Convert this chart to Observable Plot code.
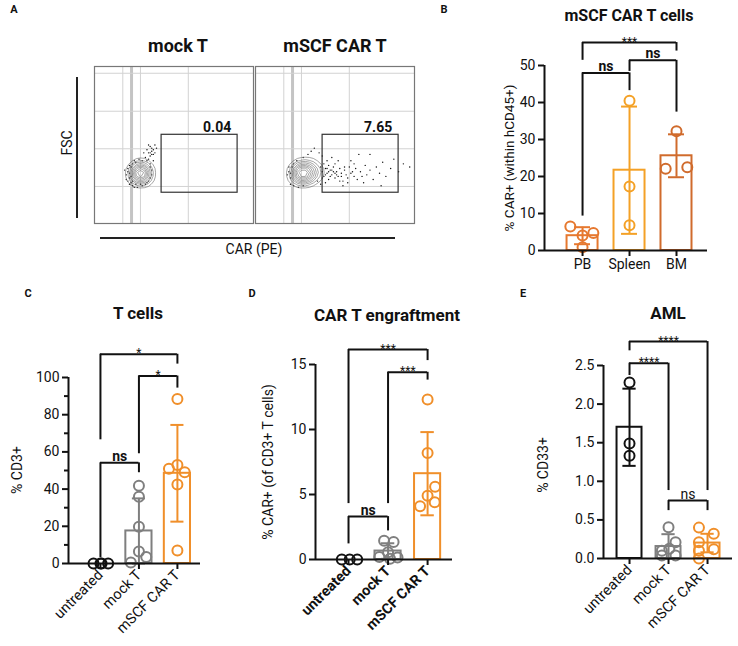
<!DOCTYPE html>
<html><head><meta charset="utf-8">
<script src="https://cdn.jsdelivr.net/npm/d3@7"></script>
<script src="https://cdn.jsdelivr.net/npm/@observablehq/plot@0.6"></script>
<style>
body{margin:0;background:#fff;font-family:Roboto,"Noto Sans",sans-serif;color:#111}
#fig{position:relative;width:738px;height:646px;overflow:hidden;background:#fff}
.t{position:absolute;white-space:nowrap;transform:translate(-50%,-50%);line-height:1}
</style></head>
<body><div id="fig"></div>
<script>
// ---------- Panel A (flow cytometry) ----------
const flowTitles = ["mock T", "mSCF CAR T"];
const flowPercents = ["0.04", "7.65"];
const flowGridX = [17.8, 28.9, 59.0];
const flowGridThickX = [23.3];
const flowGridY = [23.6, 47.6, 71.5, 95.7];
const flowGate = {x1: 42.2, x2: 90.0, y1: 19.6, y2: 56.5};
const mockCore = [[29,32],[28,31],[30,33],[29,33],[28,32],[30,31],[27,32],[31,32],[29,30],[29,34],[27,30],[31,34],[26,33],[32,31],[28,35],[30,29],[26,30],[32,34],[27,35],[31,29],[25,32],[33,33],[29,36],[29,28],[24,31],[34,32],[27,28],[31,37],[26,36],[32,28],[29,32],[28,33],[30,32],[29,31],[30,34],[28,30]];
const mockDots = [[22,29],[21,33],[23,36],[22,25],[24,24],[27,23],[30,24],[33,26],[35,29],[36,34],[35,38],[34,41],[32,42],[36,44],[37,47],[35,49],[33,47],[38,45],[34,45],[30,40],[26,39],[24,38],[20,31],[21,27],[37,40],[38,50],[31,45],[23,26],[36,31],[19,34],[35,43],[36,46],[34,50],[20,28],[25,23],[28,41],[39,48],[22,32],[23,30],[21,35],[24,27],[26,25],[29,25],[32,25],[34,27],[35,36],[33,40],[36,48],[37,44],[35,45],[22,37],[25,40]];
const carCore = [[29,32],[28,31],[30,33],[29,33],[28,32],[30,31],[27,32],[31,32],[29,30],[29,34],[27,30],[31,34],[26,33],[32,31],[28,35],[30,29],[26,30],[32,34],[27,35],[31,29],[25,32],[33,33],[29,36],[29,28],[24,31],[34,32],[27,28],[31,37],[26,36],[32,28],[34,33],[35,31],[36,34],[37,32],[38,33],[35,36],[33,30],[39,31],[40,34],[36,29],[33,38],[37,37],[29,32],[30,32],[28,33]];
const carDots = [[22,29],[21,33],[23,36],[22,25],[24,24],[27,23],[30,24],[24,38],[26,40],[30,42],[33,44],[35,46],[37,48],[20,31],[40,45],[42,43],[39,27],[41,25],[42,33],[43,30],[44,35],[45,32],[46,28],[47,34],[48,31],[49,36],[50,29],[51,33],[52,30],[53,35],[54,32],[55,27],[56,34],[57,31],[58,29],[59,36],[60,32],[62,30],[63,35],[64,28],[66,33],[67,30],[69,37],[70,31],[72,34],[74,28],[76,36],[78,32],[80,39],[82,30],[85,35],[87,41],[90,33],[93,38],[97,36],[45,40],[48,42],[52,40],[55,24],[60,40],[65,44],[72,44],[79,24],[44,26],[50,38],[58,26],[62,38],[68,26],[46,37],[53,27],[43,38],[47,30],[49,33],[51,31],[44,31],[46,33],[48,34],[41,36],[42,29],[45,35],[50,32],[54,30],[56,36],[61,33],[22,32],[21,36]];

// ---------- Panel B ----------
const groupsB = ["PB", "Spleen", "BM"];
const meansB = [4.0, 21.7, 25.6];
const sdsB = [2.3, 17.2, 5.8];
// [group index, value, horizontal jitter]
const pointsB = [[0,6.5,-0.26],[0,4.05,0],[0,4.7,0.23],[0,0.9,0],[1,40.5,0],[1,17.3,0],[1,6.8,0],[2,32.2,0],[2,22.1,-0.23],[2,22.5,0.23]];
const bracketsB = [{a:1,b:3,y:56.2,ya:51.4,yb:53.9,t:"***"},{a:2,b:3,y:51.4,ya:48.4,yb:37.4,t:"ns"},{a:1,b:2,y:48.0,ya:9.3,yb:43.2,t:"ns"}];
const ticksB = [0,10,20,30,40,50];

// ---------- Panels C, D, E ----------
const groupsCDE = ["untreated", "mock T", "mSCF CAR T"];
const meansC = [0, 17.5, 48.5];
const sdsC = [0, 17.5, 26.0];
const pointsC = [[0,0,-0.18],[0,0,0.0],[0,0,0.03],[0,0,0.2],[1,41.8,0],[1,35.9,0],[1,19.8,0],[1,6.5,0],[1,3.5,0.19],[1,0.5,-0.21],[2,88.5,0],[2,53,0],[2,51,-0.22],[2,49,0.19],[2,42.5,0],[2,7,0]];
const bracketsC = [{a:1,b:3,y:112.5,ya:66.5,yb:107.2,t:"*"},{a:2,b:3,y:100.8,ya:59,yb:94.3,t:"*"},{a:1,b:2,y:54.1,ya:3.2,yb:48.8,t:"ns"}];
const ticksC = [0,20,40,60,80,100];
const minorC = [10,30,50,70,90];

const meansD = [0, 0.65, 6.6];
const sdsD = [0, 0.6, 3.2];
const pointsD = [[0,0,-0.17],[0,0,0.03],[0,0,0.22],[1,1.45,-0.1],[1,1.35,0.14],[1,0.55,0],[1,0.2,-0.22],[1,0.15,0.24],[1,0.05,0.05],[2,12.3,0],[2,8.2,0],[2,5.6,0.19],[2,4.9,0],[2,4.4,0.18],[2,4.1,-0.19]];
const bracketsD = [{a:1,b:3,y:16.15,ya:4.3,yb:15.3,t:"***"},{a:2,b:3,y:14.4,ya:4.3,yb:13.8,t:"***"},{a:1,b:2,y:3.3,ya:1.2,yb:2.2,t:"ns"}];
const ticksD = [0,5,10,15];

const meansE = [1.70, 0.155, 0.20];
const sdsE = [0.5, 0.16, 0.12];
const pointsE = [[0,2.28,0],[0,1.49,0],[0,1.33,0],[1,0.405,0],[1,0.21,0.18],[1,0.1,-0.17],[1,0.125,0.02],[1,0.04,0.18],[1,0.04,-0.17],[2,0.40,-0.22],[2,0.32,0.16],[2,0.21,-0.22],[2,0.12,0.16],[2,0.10,-0.22],[2,0.0,-0.22]];
const bracketsE = [{a:1,b:3,y:2.81,ya:2.69,yb:0.88,t:"****"},{a:1,b:2,y:2.53,ya:2.37,yb:0.88,t:"****"},{a:2,b:3,y:0.75,ya:0.62,yb:0.62,t:"ns"}];
const ticksE = [0,0.5,1.0,1.5,2.0,2.5];

const colorsB = ["#e6782f", "#f4a126", "#d06b2c"];
const colorsCDE = ["#111111", "#7f7f7f", "#f08f2a"];

const fig = document.getElementById("fig");
function put(el, left, top) {
  el.style.position = "absolute"; el.style.left = left + "px"; el.style.top = top + "px";
  fig.appendChild(el);
}
function label(text, x, y, size, bold, rot) {
  const d = document.createElement("div");
  d.className = "t"; d.textContent = text;
  d.style.left = x + "px"; d.style.top = y + "px";
  d.style.fontSize = size + "px"; d.style.fontWeight = bold ? "700" : "400";
  if (rot) d.style.transform = `translate(-50%,-50%) rotate(${rot}deg)`;
  fig.appendChild(d);
}
function line(x, y, w, h) {
  const d = document.createElement("div");
  d.style.position = "absolute"; d.style.left = x + "px"; d.style.top = y + "px";
  d.style.width = w + "px"; d.style.height = h + "px"; d.style.background = "#222";
  fig.appendChild(d);
}
const baseStyle = {fontFamily: "Roboto, sans-serif", color: "#111", background: "transparent", overflow: "visible", maxWidth: "none"};

function flowPlot(core, dots, pct) {
  return Plot.plot({
    width: 159, height: 157, margin: 0,
    x: {domain: [0, 100], axis: null}, y: {domain: [0, 100], axis: null},
    style: baseStyle,
    marks: [
      Plot.ruleX(flowGridX, {stroke: "#d2d2d2", strokeWidth: 1}),
      Plot.ruleX(flowGridThickX, {stroke: "#c4c4c4", strokeWidth: 3}),
      Plot.ruleY(flowGridY, {stroke: "#d2d2d2", strokeWidth: 1}),
      Plot.dot(dots, {x: d => d[0], y: d => d[1], r: 0.7, fill: "#111"}),
      Plot.density(core, {x: d => d[0], y: d => d[1], bandwidth: 4.5, thresholds: 10, stroke: "#6a6a6a", strokeWidth: 0.6}),
      Plot.rect([flowGate], {x1: "x1", x2: "x2", y1: "y1", y2: "y2", fill: "none", stroke: "#333", strokeWidth: 1.2}),
      Plot.text([flowGate], {x: d => d.x2 - 4, y: d => d.y2 + 1.5, text: () => pct, textAnchor: "end", lineAnchor: "bottom", fontWeight: "bold", fontSize: 14}),
      Plot.frame({stroke: "#777", strokeWidth: 1.2})
    ]
  });
}

function barPanel(c) {
  const half = c.half, cap = 0.17;
  const bars = c.means.map((m, i) => ({x1: i + 1 - half, x2: i + 1 + half, y1: 0, y2: m, c: c.colors[i]})).filter(d => d.y2 > 0);
  const errs = c.means.map((m, i) => ({x: i + 1, lo: m - c.sds[i], hi: m + c.sds[i], c: c.colors[i], s: c.sds[i]})).filter(d => d.s > 0);
  const caps = errs.flatMap(d => [{x1: d.x - cap, x2: d.x + cap, y: d.lo, c: d.c}, {x1: d.x - cap, x2: d.x + cap, y: d.hi, c: d.c}]);
  const dots = c.points.map(p => ({x: p[0] + 1 + p[2], y: p[1], c: c.colors[p[0]]}));
  const hz = c.brackets.map(b => ({x1: b.a, x2: b.b, y: b.y}));
  const legs = c.brackets.flatMap(b => [{x: b.a, y1: b.ya, y2: b.y}, {x: b.b, y1: b.yb, y2: b.y}]);
  const labs = c.brackets.map(b => ({x: (b.a + b.b) / 2, y: b.y, t: b.t, star: b.t.startsWith("*")}));
  const xd = c.xDom, yd = c.yDom;
  const marks = [
    Plot.rect(bars, {x1: "x1", x2: "x2", y1: "y1", y2: "y2", fill: "white", stroke: "c", strokeWidth: 2}),
    Plot.ruleX(errs, {x: "x", y1: "lo", y2: "hi", stroke: "c", strokeWidth: 2}),
    Plot.ruleY(caps, {x1: "x1", x2: "x2", y: "y", stroke: "c", strokeWidth: 2}),
    Plot.dot(dots, {x: "x", y: "y", r: 5, stroke: "c", strokeWidth: 2, fill: "none"}),
    Plot.ruleX([xd[0]], {y1: yd[0], y2: yd[1], stroke: "#111", strokeWidth: 2}),
    Plot.ruleY([0], {x1: xd[0], x2: xd[1], stroke: "#111", strokeWidth: 2}),
    Plot.axisY(c.ticks, {tickSize: 6, strokeWidth: 2, tickPadding: 3, fontSize: c.fs, tickFormat: c.yFmt, label: null}),
    Plot.axisX([1, 2, 3], {tickSize: 6, strokeWidth: 2, tickPadding: 3, fontSize: c.xfs || c.fs, tickRotate: c.rotate, fontWeight: c.boldX ? "bold" : "normal", tickFormat: d => c.groups[d - 1], label: null}),
    Plot.ruleY(hz, {x1: "x1", x2: "x2", y: "y", stroke: "#111", strokeWidth: 2}),
    Plot.ruleX(legs, {x: "x", y1: "y1", y2: "y2", stroke: "#111", strokeWidth: 2}),
    Plot.text(labs.filter(d => d.star), {x: "x", y: "y", text: "t", fontSize: 12, lineAnchor: "bottom", dy: 3}),
    Plot.text(labs.filter(d => !d.star), {x: "x", y: "y", text: "t", fontSize: 14, fontWeight: c.boldNs ? "bold" : "normal", lineAnchor: "bottom", dy: -2})
  ];
  if (c.minor) marks.push(Plot.axisY(c.minor, {tickSize: 4, strokeWidth: 2, tickFormat: () => "", label: null}));
  const p = Plot.plot({
    width: c.width, height: c.height,
    marginLeft: c.mL, marginRight: c.mR, marginTop: c.mT, marginBottom: c.mB,
    x: {type: "linear", domain: xd, axis: null},
    y: {type: "linear", domain: yd, axis: null},
    color: {type: "identity"},
    style: baseStyle,
    marks
  });
  put(p, c.left, c.top);
}

// Panel A
put(flowPlot(mockCore, mockDots, flowPercents[0]), 94, 66);
put(flowPlot(carCore, carDots, flowPercents[1]), 255, 66);
label("A", 14, 9, 11, true);
label(flowTitles[0], 178, 46, 18, true);
label(flowTitles[1], 335, 46, 18, true);
label("FSC", 67, 143, 14, false, -90);
label("CAR (PE)", 254, 249, 14, false);
line(76, 77, 2, 141);
line(100, 237, 295, 2);

// Panel B
barPanel({groups: groupsB, means: meansB, sds: sdsB, points: pointsB, colors: colorsB, brackets: bracketsB,
  ticks: ticksB, yDom: [0, 50], xDom: [0.19, 3.66], left: 420, top: 0, width: 318, height: 300,
  mL: 124, mR: 31, mT: 65, mB: 50, half: 0.33, rotate: 0, fs: 14, boldNs: true});
label("B", 444, 9, 11, true);
label("mSCF CAR T cells", 629, 16, 16, true);
label("% CAR+ (within hCD45+)", 510, 158, 13.5, false, -90);

// Panel C
barPanel({groups: groupsCDE, means: meansC, sds: sdsC, points: pointsC, colors: colorsCDE, brackets: bracketsC,
  ticks: ticksC, minor: minorC, yDom: [0, 100], xDom: [0.17, 3.6], left: 0, top: 300, width: 250, height: 346,
  mL: 68, mR: 50, mT: 77, mB: 83, half: 0.34, rotate: -45, fs: 14, xfs: 14.5, boldNs: true});
label("C", 28, 293, 11, true);
label("T cells", 138, 313, 17, true);
label("% CD3+", 17, 470, 14, false, -90);

// Panel D
barPanel({groups: groupsCDE, means: meansD, sds: sdsD, points: pointsD, colors: colorsCDE, brackets: bracketsD,
  ticks: ticksD, yDom: [0, 15], xDom: [0.165, 3.63], left: 250, top: 300, width: 240, height: 346,
  mL: 65, mR: 38, mT: 64, mB: 87, half: 0.33, rotate: -45, fs: 14, xfs: 14.5, boldX: true, boldNs: true});
label("D", 252, 293, 11, true);
label("CAR T engraftment", 387, 315, 17, true);
label("% CAR+ (of CD3+ T cells)", 268, 462, 14, false, -90);

// Panel E
barPanel({groups: groupsCDE, means: meansE, sds: sdsE, points: pointsE, colors: colorsCDE, brackets: bracketsE,
  ticks: ticksE, yFmt: d3.format(".1f"), yDom: [0, 2.5], xDom: [0.333, 3.64], left: 490, top: 300, width: 248, height: 346,
  mL: 113, mR: 6, mT: 65, mB: 88, half: 0.32, rotate: -45, fs: 14, xfs: 14.5, boldNs: false});
label("E", 523, 293, 11, true);
label("AML", 668, 313, 17, true);
label("% CD33+", 543, 465, 14, false, -90);
</script>
</body></html>
